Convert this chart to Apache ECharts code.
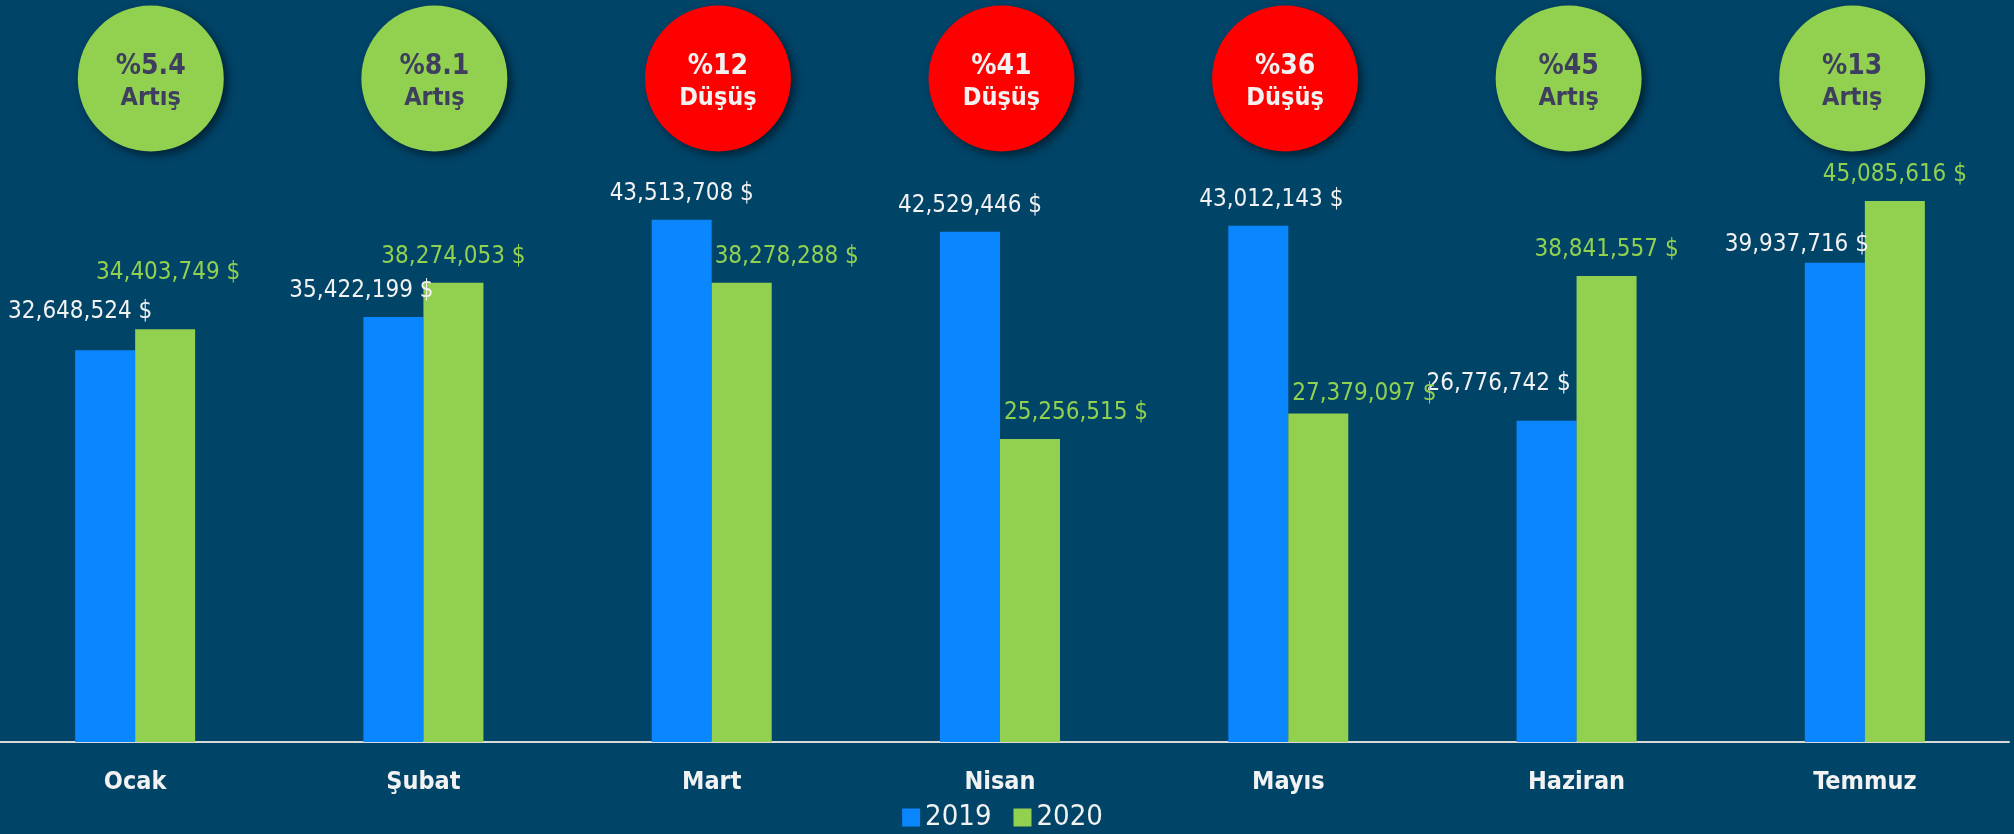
<!DOCTYPE html>
<html>
<head>
<meta charset="utf-8">
<script src="https://cdn.jsdelivr.net/npm/echarts@6/dist/echarts.min.js"></script>
<style>
  html, body { margin: 0; padding: 0; background: #004468; overflow: hidden; }
  /* the original axis starts a little left of the page edge */
  #chart { width: 2023px; height: 834px; margin-left: -9px; }
</style>
</head>
<body>
<div id="chart"></div>
<script>
// data
const months = ['Ocak', 'Şubat', 'Mart', 'Nisan', 'Mayıs', 'Haziran', 'Temmuz']
const sales2019 = [32648524, 35422199, 43513708, 42529446, 43012143, 26776742, 39937716]
const sales2020 = [34403749, 38274053, 38278288, 25256515, 27379097, 38841557, 45085616]
const changePct = ['%5.4', '%8.1', '%12', '%41', '%36', '%45', '%13']
const changeWord = ['Artış', 'Artış', 'Düşüş', 'Düşüş', 'Düşüş', 'Artış', 'Artış']

// label nudges (px), labels were placed by hand in the original
const shift2019 = [[-25, -12], [-32, 0], [0, 0], [0, 0], [13, 0], [-48, -11], [-38, 8]]
const shift2020 = [[3, -30], [0, 0], [45, 0], [46, 0], [46, 6], [0, 0], [0, 0]]

const FONT = "'Liberation Sans Narrow', 'DejaVu Sans Condensed', 'Roboto Condensed', sans-serif"
const BLUE = '#0a86ff'
const GREEN = '#92d050'
const RED = '#ff0000'

const money = (v) => v.toLocaleString('en-US') + ' $'

const barData = (values, shifts) => values.map((v, i) => ({
  value: v,
  label: { offset: shifts[i] }
}))

const chart = echarts.init(document.getElementById('chart'))
chart.setOption({
  backgroundColor: '#004468',
  textStyle: { fontFamily: FONT },
  legend: {
    data: ['2019', '2020'],
    top: 798,
    left: 'center',
    icon: 'rect',
    itemWidth: 18,
    itemHeight: 18,
    itemGap: 22,
    textStyle: { color: '#f2f2f2', fontSize: 29, fontFamily: FONT }
  },
  grid: [
    { left: 0, right: 5, top: 142, bottom: 92 },
    { left: 18, width: 1985, top: 5, height: 147 }
  ],
  xAxis: [
    {
      type: 'category',
      gridIndex: 0,
      data: months,
      axisTick: { show: false },
      axisLine: { lineStyle: { color: '#d9d9d9', width: 2 } },
      axisLabel: {
        color: '#f2f2f2',
        fontSize: 25,
        fontWeight: 'bold',
        fontFamily: FONT,
        margin: 28
      }
    },
    { type: 'category', gridIndex: 1, data: months, show: false }
  ],
  yAxis: [
    { type: 'value', gridIndex: 0, min: 0, max: 50000000, show: false, splitLine: { show: false } },
    { type: 'value', gridIndex: 1, min: 0, max: 1, show: false, splitLine: { show: false } }
  ],
  series: [
    {
      name: '2019',
      type: 'bar',
      barWidth: 60,
      barGap: '0%',
      itemStyle: { color: BLUE },
      label: {
        show: true,
        position: 'top',
        distance: 14,
        color: '#f2f2f2',
        fontSize: 24,
        fontFamily: FONT,
        formatter: (p) => money(p.value)
      },
      data: barData(sales2019, shift2019)
    },
    {
      name: '2020',
      type: 'bar',
      barWidth: 60,
      barGap: '0%',
      itemStyle: { color: GREEN },
      label: {
        show: true,
        position: 'top',
        distance: 14,
        color: GREEN,
        fontSize: 24,
        fontFamily: FONT,
        formatter: (p) => money(p.value)
      },
      data: barData(sales2020, shift2020)
    },
    {
      // the change circles on top
      type: 'scatter',
      xAxisIndex: 1,
      yAxisIndex: 1,
      symbolSize: 146,
      silent: true,
      data: months.map((m, i) => {
        const down = changeWord[i] === 'Düşüş'
        return {
          value: [m, 0.5],
          itemStyle: {
            color: down ? RED : GREEN,
            opacity: 1,
            shadowBlur: 8,
            shadowOffsetX: 4,
            shadowOffsetY: 4,
            shadowColor: 'rgba(0, 0, 0, 0.5)'
          },
          label: {
            color: down ? '#f2f2f2' : '#3e3f5e'
          }
        }
      }),
      label: {
        show: true,
        position: 'inside',
        offset: [0, 3],
        fontFamily: FONT,
        formatter: (p) => '{a|' + changePct[p.dataIndex] + '}\n{b|' + changeWord[p.dataIndex] + '}',
        rich: {
          a: { fontSize: 28, fontWeight: 'bold', lineHeight: 34, fontFamily: FONT },
          b: { fontSize: 25, fontWeight: 'bold', lineHeight: 30, fontFamily: FONT }
        }
      }
    }
  ]
})
</script>
</body>
</html>
